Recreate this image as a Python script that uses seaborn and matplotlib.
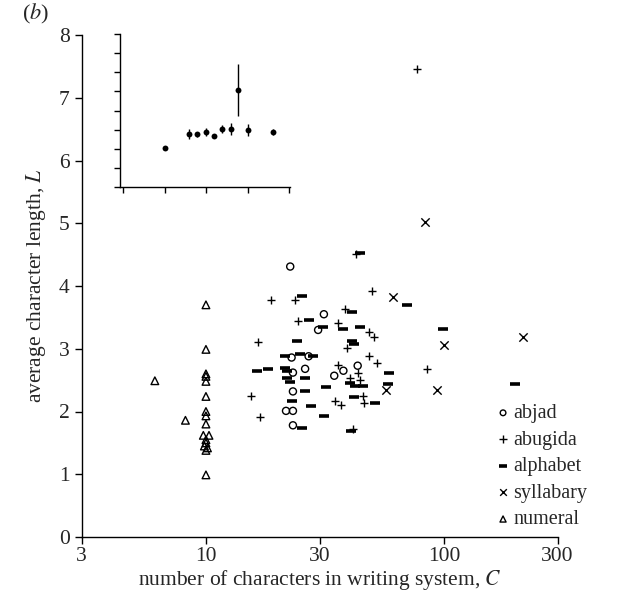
import pandas as pd
import seaborn as sns
import matplotlib.pyplot as plt
from matplotlib.ticker import NullLocator

# main panel: number of characters C vs average character length L
abjad_c = [22.6, 31.3, 29.6, 22.9, 27.0, 26.1, 23.2, 43.4, 37.8, 34.6, 23.2, 21.7, 23.2, 23.2]
abjad_l = [4.31, 3.55, 3.30, 2.86, 2.88, 2.68, 2.62, 2.73, 2.65, 2.57, 2.32, 2.01, 2.01, 1.78]

abugida_c = [77.2, 42.9, 49.7, 18.8, 23.7, 24.3, 16.6, 38.4, 36.0, 48.2, 50.8, 39.0, 48.5,
             52.1, 36.0, 43.4, 40.2, 44.4, 85.0, 15.5, 16.8, 45.8, 46.2, 34.8, 37.1, 41.5]
abugida_l = [7.46, 4.51, 3.92, 3.77, 3.77, 3.44, 3.11, 3.63, 3.41, 3.27, 3.19, 3.01, 2.89,
             2.77, 2.74, 2.61, 2.53, 2.50, 2.67, 2.24, 1.92, 2.24, 2.14, 2.16, 2.10, 1.72]

alphabet_c = [44.4, 25.3, 27.0, 69.8, 41.0, 31.1, 37.8, 44.4, 98.9, 41.1, 42.0, 24.1, 21.4,
              24.8, 28.2, 16.4, 18.3, 21.4, 21.9, 21.9, 22.6, 26.1, 26.1, 31.8, 40.2, 42.2,
              45.8, 59.0, 58.4, 198.0, 41.9, 51.3, 27.7, 22.9, 31.3, 40.6, 25.3]
alphabet_l = [4.52, 3.84, 3.46, 3.69, 3.59, 3.34, 3.31, 3.34, 3.31, 3.12, 3.08, 3.13, 2.88,
              2.91, 2.88, 2.65, 2.68, 2.70, 2.65, 2.53, 2.47, 2.53, 2.32, 2.39, 2.45, 2.41,
              2.40, 2.62, 2.44, 2.44, 2.23, 2.13, 2.09, 2.16, 1.93, 1.69, 1.73]

syllabary_c = [83.0, 61.1, 100.2, 93.6, 215.0, 57.0]
syllabary_l = [5.02, 3.83, 3.06, 2.35, 3.18, 2.34]

numeral_c = [10.0, 10.0, 10.0, 10.0, 10.0, 6.1, 10.0, 8.2, 10.0, 10.0, 10.0, 9.75, 10.3,
             10.0, 10.0, 9.85, 10.15, 10.0, 10.0]
numeral_l = [3.70, 2.99, 2.60, 2.56, 2.48, 2.49, 2.24, 1.86, 2.00, 1.93, 1.80, 1.62, 1.62,
             1.55, 1.50, 1.45, 1.42, 1.38, 0.99]

x_ticks = [3, 10, 30, 100, 300]
x_ticklabels = ['3', '10', '30', '100', '300']

# inset (unlabelled axes)
inset_x = [1.0, 1.6, 1.78, 2.0, 2.2, 2.38, 2.6, 2.78, 3.0, 3.6]
inset_y = [2.02, 2.76, 2.76, 2.89, 2.67, 3.02, 3.03, 5.07, 2.98, 2.89]
inset_err = [0.08, 0.25, 0.12, 0.2, 0.1, 0.2, 0.3, 1.37, 0.3, 0.15]

groups = {
    'abjad': (abjad_c, abjad_l),
    'abugida': (abugida_c, abugida_l),
    'alphabet': (alphabet_c, alphabet_l),
    'syllabary': (syllabary_c, syllabary_l),
    'numeral': (numeral_c, numeral_l),
}
df = pd.concat([pd.DataFrame({'C': c, 'L': l, 'type': name}) for name, (c, l) in groups.items()],
               ignore_index=True)

styles = {
    'abjad': dict(marker='o', s=26, fc='none', ec='black', linewidth=1.0),
    'abugida': dict(marker='+', s=40, color='black', linewidth=1.0),
    'alphabet': dict(marker='_', s=45, color='black', linewidth=2.6),
    'syllabary': dict(marker='x', s=36, color='black', linewidth=1.0),
    'numeral': dict(marker='^', s=30, fc='none', ec='black', linewidth=1.0),
}

sns.set_style('ticks')
plt.rcParams['font.family'] = ['Liberation Serif', 'DejaVu Serif']
plt.rcParams['mathtext.fontset'] = 'stix'

fig = plt.figure(figsize=(6.23, 6.09), dpi=100)
ax = fig.add_axes([81.5 / 623, 72 / 609, 476 / 623, 502 / 609])

for name in groups:
    sns.scatterplot(data=df[df['type'] == name], x='C', y='L', ax=ax, label=name, **styles[name])

ax.set_xscale('log')
ax.set_xlim(3, 300)
ax.set_xticks(x_ticks)
ax.set_xticklabels(x_ticklabels)
ax.xaxis.set_minor_locator(NullLocator())
ax.set_ylim(0, 8)
ax.set_yticks(range(9))
sns.despine(ax=ax)
for sp in ['left', 'bottom']:
    ax.spines[sp].set_linewidth(1.0)
    ax.spines[sp].set_color('black')
ax.tick_params(direction='out', length=5, width=1.0, labelsize=15.5, color='black')
ax.tick_params(axis='x', pad=2)
ax.set_xlabel('number of characters in writing system, $C$', fontsize=15.5, labelpad=2)
ax.set_ylabel('average character length, $L$', fontsize=15.5, labelpad=8)

ax.legend(loc='upper left', bbox_to_anchor=(497 / 623, 1 - 404 / 609), bbox_transform=fig.transFigure,
          frameon=False, fontsize=14.5, handlelength=0.6, handletextpad=0.2, labelspacing=0.37,
          borderpad=0, borderaxespad=0, markerscale=0.8)

fig.text(0.035, 0.968, '($b$)', fontsize=16)

# inset
ins = fig.add_axes([120 / 623, (609 - 187) / 609, 170 / 623, 153 / 609])
ins.errorbar(inset_x, inset_y, yerr=inset_err, fmt='none', ecolor='black', elinewidth=1.0)
sns.scatterplot(x=inset_x, y=inset_y, ax=ins, color='black', s=18, linewidth=0)
ins.set_xlim(-0.072, 4.02)
ins.set_ylim(0, 8)
ins.set_xticks(range(5))
ins.set_yticks(range(9))
ins.set_xticklabels([])
ins.set_yticklabels([])
ins.patch.set_alpha(0)
sns.despine(ax=ins)
for sp in ['left', 'bottom']:
    ins.spines[sp].set_linewidth(1.0)
    ins.spines[sp].set_color('black')
ins.tick_params(direction='out', length=4, width=1.0, color='black')

fig.savefig('out.png', dpi=100)
